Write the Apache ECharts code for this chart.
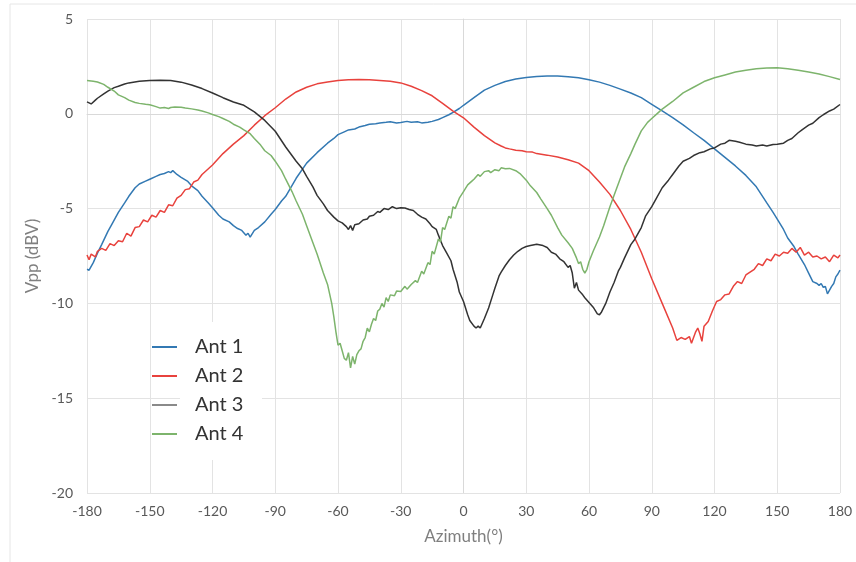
<!DOCTYPE html>
<html>
<head>
<meta charset="utf-8">
<script src="https://cdn.jsdelivr.net/npm/echarts@6/dist/echarts.min.js"></script>
<style>
  html, body { margin: 0; padding: 0; background: #fff; }
  #chart { width: 856px; height: 562px; }
</style>
</head>
<body>
<div id="chart"></div>
<script>
// ---------- data ----------
const seriesNames = ['Ant 1', 'Ant 2', 'Ant 3', 'Ant 4'];
const xTicks = [-180, -150, -120, -90, -60, -30, 0, 30, 60, 90, 120, 150, 180];
const yTicks = [5, 0, -5, -10, -15, -20];

const ant1Az = [-180,-179,-177,-175,-173,-170,-168,-165,-162,-160,-157,-155,-152,-150,-147,-145,-143,-141,-140,-139,-137,-135,-132,-130,-127,-125,-122,-120,-117,-115,-112,-110,-108,-106,-104,-103,-102,-100,-98,-95,-92,-90,-87,-85,-80,-75,-70,-65,-62,-60,-57,-55,-52,-50,-47,-45,-42,-40,-37,-35,-32,-30,-27,-25,-22,-20,-17,-15,-12,-10,-7,-5,-2,0,5,10,15,20,25,30,35,40,45,50,55,60,65,70,75,80,85,90,95,100,105,110,115,120,125,130,135,140,145,148,150,153,155,158,160,163,165,167,169,170,171,172,173,174,175,176,177,178,179,180];
const ant1Vpp = [-8.2,-8.25,-7.85,-7.35,-6.9,-6.2,-5.8,-5.2,-4.7,-4.35,-3.9,-3.7,-3.55,-3.45,-3.3,-3.2,-3.15,-3.05,-3.1,-3.0,-3.2,-3.35,-3.55,-3.8,-4.05,-4.35,-4.7,-4.95,-5.35,-5.55,-5.7,-5.9,-6.05,-6.15,-6.4,-6.3,-6.5,-6.15,-6.0,-5.7,-5.3,-5.05,-4.6,-4.35,-3.4,-2.6,-2.05,-1.55,-1.3,-1.1,-0.95,-0.85,-0.8,-0.7,-0.62,-0.55,-0.52,-0.48,-0.45,-0.42,-0.48,-0.46,-0.4,-0.45,-0.42,-0.48,-0.44,-0.4,-0.3,-0.2,-0.05,0.08,0.28,0.45,0.85,1.25,1.5,1.7,1.83,1.92,1.97,2.0,2.0,1.96,1.9,1.8,1.67,1.5,1.3,1.1,0.85,0.5,0.15,-0.2,-0.58,-1.0,-1.4,-1.85,-2.3,-2.75,-3.25,-3.85,-4.7,-5.2,-5.55,-6.1,-6.55,-7.0,-7.4,-7.95,-8.4,-8.85,-8.95,-9.05,-8.95,-9.15,-9.1,-9.5,-9.3,-9.1,-8.95,-8.6,-8.45,-8.25];

const ant2Az = [-180,-179,-178,-176,-175,-173,-171,-169,-167,-165,-163,-161,-159,-157,-155,-153,-151,-149,-147,-145,-143,-141,-139,-137,-135,-133,-131,-129,-127,-125,-120,-115,-110,-105,-100,-95,-90,-85,-80,-75,-70,-65,-60,-55,-50,-45,-40,-35,-30,-25,-20,-15,-10,-5,0,5,10,15,18,20,22,25,28,30,33,35,40,45,50,55,60,65,70,75,80,85,90,95,100,102,104,106,108,109,111,112,113,114,115,117,119,121,123,125,127,129,131,133,135,137,139,141,143,145,147,149,151,153,155,157,159,161,163,165,167,169,171,173,175,177,179,180];
const ant2Vpp = [-7.45,-7.7,-7.4,-7.55,-7.25,-7.1,-7.2,-6.85,-6.95,-6.7,-6.75,-6.3,-6.45,-6.0,-5.95,-5.6,-5.7,-5.35,-5.45,-5.1,-5.2,-4.8,-4.85,-4.45,-4.3,-4.0,-3.95,-3.6,-3.5,-3.2,-2.7,-2.1,-1.6,-1.15,-0.6,-0.1,0.32,0.78,1.15,1.4,1.58,1.68,1.76,1.8,1.81,1.8,1.76,1.72,1.63,1.45,1.22,0.95,0.55,0.14,-0.21,-0.7,-1.15,-1.53,-1.7,-1.8,-1.85,-1.92,-1.95,-2.0,-2.02,-2.1,-2.18,-2.28,-2.42,-2.6,-3.0,-3.6,-4.25,-5.1,-6.1,-7.3,-8.7,-10.0,-11.3,-11.95,-11.8,-11.9,-11.75,-12.1,-11.5,-11.3,-11.6,-12.0,-11.2,-10.95,-10.4,-9.9,-9.8,-9.55,-9.5,-9.1,-8.85,-8.95,-8.5,-8.35,-8.2,-7.9,-8.0,-7.65,-7.75,-7.4,-7.5,-7.3,-7.35,-7.1,-7.3,-7.05,-7.45,-7.3,-7.55,-7.5,-7.65,-7.55,-7.8,-7.45,-7.6,-7.45];

const ant3Az = [-180,-178,-176,-175,-172,-170,-167,-165,-162,-160,-155,-150,-145,-140,-135,-130,-125,-120,-115,-110,-105,-100,-95,-90,-85,-80,-77,-75,-72,-70,-67,-65,-62,-60,-58,-56,-55,-54,-53,-52,-50,-48,-46,-45,-43,-41,-40,-38,-36,-34,-32,-30,-28,-26,-24,-22,-20,-18,-16,-15,-13,-12,-10,-8,-6,-5,-3,-2,0,2,3,5,6,7,8,10,12,14,15,17,18,20,22,24,26,28,30,32,35,38,40,42,44,46,48,50,51,52,53,54,55,57,58,60,62,64,65,66,68,70,72,74,75,77,80,82,85,87,90,92,95,98,100,103,105,108,110,113,115,118,120,123,125,127,130,132,135,138,140,143,145,148,150,153,155,157,160,162,165,167,170,172,175,177,180];
const ant3Vpp = [0.63,0.52,0.72,0.82,1.05,1.2,1.38,1.45,1.57,1.63,1.72,1.76,1.77,1.76,1.67,1.52,1.33,1.1,0.85,0.62,0.45,0.1,-0.35,-0.92,-1.75,-2.5,-2.9,-3.3,-3.85,-4.3,-4.75,-5.1,-5.45,-5.65,-5.75,-5.95,-6.1,-5.9,-6.15,-5.85,-5.8,-5.6,-5.55,-5.4,-5.35,-5.15,-5.2,-5.0,-5.05,-4.9,-5.0,-4.95,-4.97,-5.05,-5.1,-5.3,-5.45,-5.55,-5.8,-5.95,-6.1,-6.4,-6.95,-7.35,-7.75,-8.2,-8.9,-9.4,-9.9,-10.6,-10.9,-11.2,-11.3,-11.2,-11.3,-10.8,-10.24,-9.55,-9.2,-8.55,-8.35,-8.0,-7.7,-7.45,-7.25,-7.1,-7.0,-6.95,-6.88,-6.95,-7.05,-7.3,-7.4,-7.65,-7.8,-8.1,-8.0,-8.4,-9.2,-8.9,-9.3,-9.55,-9.7,-9.95,-10.2,-10.55,-10.6,-10.45,-10.0,-9.4,-8.9,-8.3,-8.1,-7.6,-6.9,-6.6,-6.0,-5.4,-4.9,-4.5,-3.9,-3.5,-3.2,-2.75,-2.5,-2.35,-2.2,-2.05,-2.0,-1.85,-1.8,-1.6,-1.55,-1.4,-1.45,-1.5,-1.6,-1.65,-1.7,-1.65,-1.7,-1.62,-1.6,-1.55,-1.4,-1.3,-1.0,-0.83,-0.6,-0.5,-0.2,-0.05,0.15,0.25,0.49];

const ant4Az = [-180,-177,-175,-172,-170,-167,-165,-162,-160,-157,-155,-152,-150,-147,-145,-143,-141,-140,-138,-135,-133,-130,-127,-125,-122,-120,-117,-115,-112,-110,-107,-105,-102,-100,-97,-95,-92,-90,-87,-85,-82,-80,-77,-75,-72,-70,-67,-65,-63,-62,-61,-60,-59,-58,-57,-56,-55,-54,-53,-52,-51,-50,-49,-48,-47,-46,-45,-44,-43,-42,-41,-40,-39,-38,-37,-36,-35,-33,-32,-30,-28,-27,-25,-23,-22,-20,-19,-17,-16,-15,-14,-12,-11,-10,-9,-7,-6,-5,-4,-2,0,2,4,5,7,8,10,12,13,15,17,18,20,22,25,27,30,32,35,37,40,42,45,47,50,52,54,55,56,57,58,59,60,62,65,67,70,72,75,77,80,82,85,88,90,93,95,100,105,110,115,120,125,130,135,140,145,150,155,160,165,170,175,180];
const ant4Vpp = [1.76,1.72,1.68,1.55,1.4,1.2,1.0,0.85,0.72,0.6,0.55,0.5,0.48,0.38,0.3,0.33,0.28,0.33,0.36,0.34,0.3,0.26,0.2,0.15,0.05,-0.04,-0.15,-0.25,-0.4,-0.55,-0.7,-0.85,-1.05,-1.3,-1.65,-1.95,-2.2,-2.5,-3.0,-3.45,-4.1,-4.6,-5.3,-5.9,-6.8,-7.4,-8.4,-9.0,-10.0,-10.7,-11.5,-12.2,-12.1,-12.5,-12.9,-13.0,-12.6,-13.4,-12.8,-13.2,-12.7,-12.5,-12.4,-12.0,-11.8,-11.3,-11.5,-11.1,-10.8,-10.9,-10.4,-10.3,-10.0,-10.2,-9.7,-9.9,-9.55,-9.6,-9.35,-9.37,-9.1,-9.25,-9.0,-8.8,-8.9,-8.3,-8.45,-7.85,-7.95,-7.25,-7.4,-6.6,-6.75,-6.0,-6.1,-5.4,-5.5,-4.9,-5.0,-4.45,-4.1,-3.75,-3.55,-3.45,-3.2,-3.3,-3.05,-3.0,-3.1,-2.95,-3.0,-2.85,-2.9,-2.88,-3.0,-3.15,-3.5,-3.8,-4.15,-4.5,-5.0,-5.35,-6.0,-6.4,-6.8,-7.1,-7.6,-7.9,-7.8,-8.2,-8.4,-8.2,-7.8,-7.25,-6.5,-5.9,-4.9,-4.3,-3.4,-2.8,-2.1,-1.6,-0.9,-0.45,-0.25,0.05,0.25,0.65,1.1,1.4,1.7,1.9,2.05,2.2,2.3,2.37,2.41,2.43,2.38,2.3,2.2,2.1,1.96,1.81];

const seriesColors = ['#3379b3', '#e8423d', '#333333', '#7db46c'];
const legendIconColors = ['#3379b3', '#e8423d', '#8a8a8a', '#7db46c'];
// ---------- chart ----------
const pair = (xs, ys) => xs.map((x, i) => [x, ys[i]]);
const allData = [pair(ant1Az, ant1Vpp), pair(ant2Az, ant2Vpp), pair(ant3Az, ant3Vpp), pair(ant4Az, ant4Vpp)];

const FONT = 'Lato, "Open Sans", sans-serif';
const chart = echarts.init(document.getElementById('chart'), null, { renderer: 'canvas' });
chart.setOption({
  animation: false,
  backgroundColor: '#ffffff',
  grid: { left: 87, right: 16, top: 19, bottom: 69, containLabel: false },
  xAxis: {
    type: 'value', min: xTicks[0], max: xTicks[xTicks.length - 1], interval: 30,
    name: 'Azimuth(°)', nameLocation: 'middle', nameGap: 35,
    nameTextStyle: { color: '#7f7f7f', fontSize: 17, fontFamily: FONT },
    axisLine: { show: true, lineStyle: { color: '#d9d9d9', width: 1 } },
    axisTick: { show: false },
    axisLabel: { color: '#595959', fontSize: 14, fontFamily: FONT, margin: 11 },
    splitLine: { show: true, lineStyle: { color: '#e3e3e3', width: 1 } }
  },
  yAxis: {
    type: 'value', min: yTicks[yTicks.length - 1], max: yTicks[0], interval: 5,
    name: 'Vpp (dBV)', nameLocation: 'middle', nameGap: 41,
    nameTextStyle: { color: '#7f7f7f', fontSize: 17, fontFamily: FONT },
    axisLine: { show: true, lineStyle: { color: '#d9d9d9', width: 1 } },
    axisTick: { show: false },
    axisLabel: { color: '#595959', fontSize: 14, fontFamily: FONT, margin: 14 },
    splitLine: { show: true, lineStyle: { color: '#e3e3e3', width: 1 } }
  },
  legend: {
    orient: 'vertical', left: 147, top: 332,
    itemWidth: 25, itemHeight: 2, itemGap: 9, icon: 'rect',
    data: seriesNames.map((n, i) => ({ name: n, itemStyle: { color: legendIconColors[i] } })),
    textStyle: { color: '#333', fontSize: 20, lineHeight: 20, fontFamily: FONT, padding: [0, 0, 0, 13] }
  },
  graphic: [
    { type: 'rect', z: 1, shape: { x: 180, y: 322, width: 82, height: 138 }, style: { fill: '#ffffff' } },
    { type: 'rect', z: 1, shape: { x: 10, y: 4, width: 900, height: 600 }, style: { fill: 'none', stroke: '#e6e6e6', lineWidth: 1 } }
  ],
  series: seriesNames.map((n, i) => ({
    name: n, type: 'line', data: allData[i], showSymbol: false, symbol: 'none',
    smooth: false, z: 3,
    lineStyle: { color: seriesColors[i], width: 1.5 },
    itemStyle: { color: seriesColors[i] }
  }))
});
</script>
</body>
</html>
